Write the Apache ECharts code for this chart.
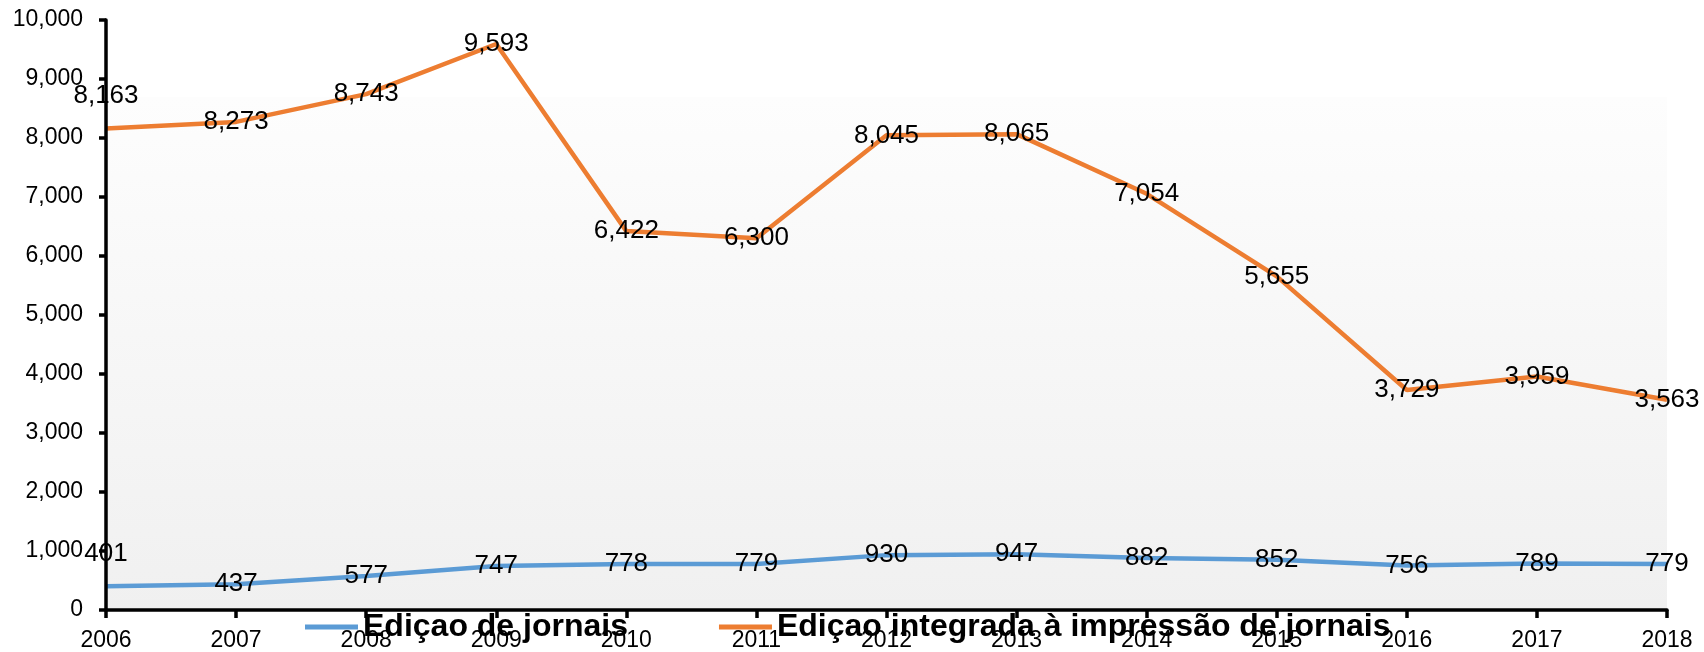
<!DOCTYPE html>
<html>
<head>
<meta charset="utf-8">
<script src="https://cdn.jsdelivr.net/npm/echarts@6/dist/echarts.min.js"></script>
<style>
  html, body { margin: 0; padding: 0; background: #fff; }
  #chart { width: 1704px; height: 652px; }
</style>
</head>
<body>
<div id="chart"></div>
<script>
const years = ["2006", "2007", "2008", "2009", "2010", "2011", "2012", "2013", "2014", "2015", "2016", "2017", "2018"];
const edicaoJornais = [401, 437, 577, 747, 778, 779, 930, 947, 882, 852, 756, 789, 779];
const edicaoIntegrada = [8163, 8273, 8743, 9593, 6422, 6300, 8045, 8065, 7054, 5655, 3729, 3959, 3563];
const seriesNames = ["Ediçao de jornais", "Ediçao integrada à impressão de jornais"];

const FONT = "'Liberation Sans', Arial, sans-serif";
const chart = echarts.init(document.getElementById("chart"));

function buildPoints(values) {
  // first label sits above the line, the rest are centred on the point
  return values.map((v, i) => (i === 0 ? { value: v, label: { offset: [0, -33] } } : v));
}

function makeLine(name, values, color) {
  return {
    name: name,
    type: "line",
    data: buildPoints(values),
    symbol: "circle",
    symbolSize: 1,
    showSymbol: true,
    z: 2,
    lineStyle: { color: color, width: 4.5 },
    itemStyle: { color: color },
    label: {
      show: true,
      position: "inside",
      color: "#000",
      fontFamily: FONT,
      fontSize: 26,
      formatter: (p) => Number(p.value).toLocaleString("en-US"),
    },
  };
}

const option = {
  animation: false,
  textStyle: { fontFamily: FONT },
  grid: {
    show: true,
    z: 1,
    left: 106,
    right: 37,
    top: 20,
    bottom: 40,
    borderWidth: 0,
    backgroundColor: {
      type: "linear",
      x: 0, y: 0, x2: 0, y2: 1,
      colorStops: [
        { offset: 0, color: "#ffffff" },
        { offset: 0.13, color: "#ffffff" },
        { offset: 0.131, color: "#fdfdfd" },
        { offset: 1, color: "#f0f0f0" },
      ],
    },
  },
  legend: {
    z: 0,
    left: 300,
    top: 606,
    icon: "rect",
    itemWidth: 53,
    itemHeight: 5,
    itemGap: 91,
    data: seriesNames,
    textStyle: { fontFamily: FONT, fontSize: 32, fontWeight: "bold", color: "#000", lineHeight: 32 },
  },
  xAxis: {
    type: "category",
    data: years,
    boundaryGap: false,
    z: 3,
    axisLine: { lineStyle: { color: "#000", width: 3.5 } },
    axisTick: { show: true, length: 8, alignWithLabel: true, lineStyle: { color: "#000", width: 3.5 } },
    axisLabel: { color: "#000", fontSize: 23, fontFamily: FONT, margin: 19, interval: 0 },
    splitLine: { show: false },
  },
  yAxis: {
    type: "value",
    min: 0,
    max: 10000,
    interval: 1000,
    z: 3,
    axisLine: { show: true, lineStyle: { color: "#000", width: 3.5 } },
    axisTick: { show: true, length: 7, lineStyle: { color: "#000", width: 3.5 } },
    axisLabel: { color: "#000", fontSize: 23, fontFamily: FONT, margin: 23 },
    splitLine: { show: false },
  },
  series: [
    makeLine(seriesNames[0], edicaoJornais, "#5b9bd5"),
    makeLine(seriesNames[1], edicaoIntegrada, "#ed7d31"),
  ],
};

chart.setOption(option);
</script>
</body>
</html>
